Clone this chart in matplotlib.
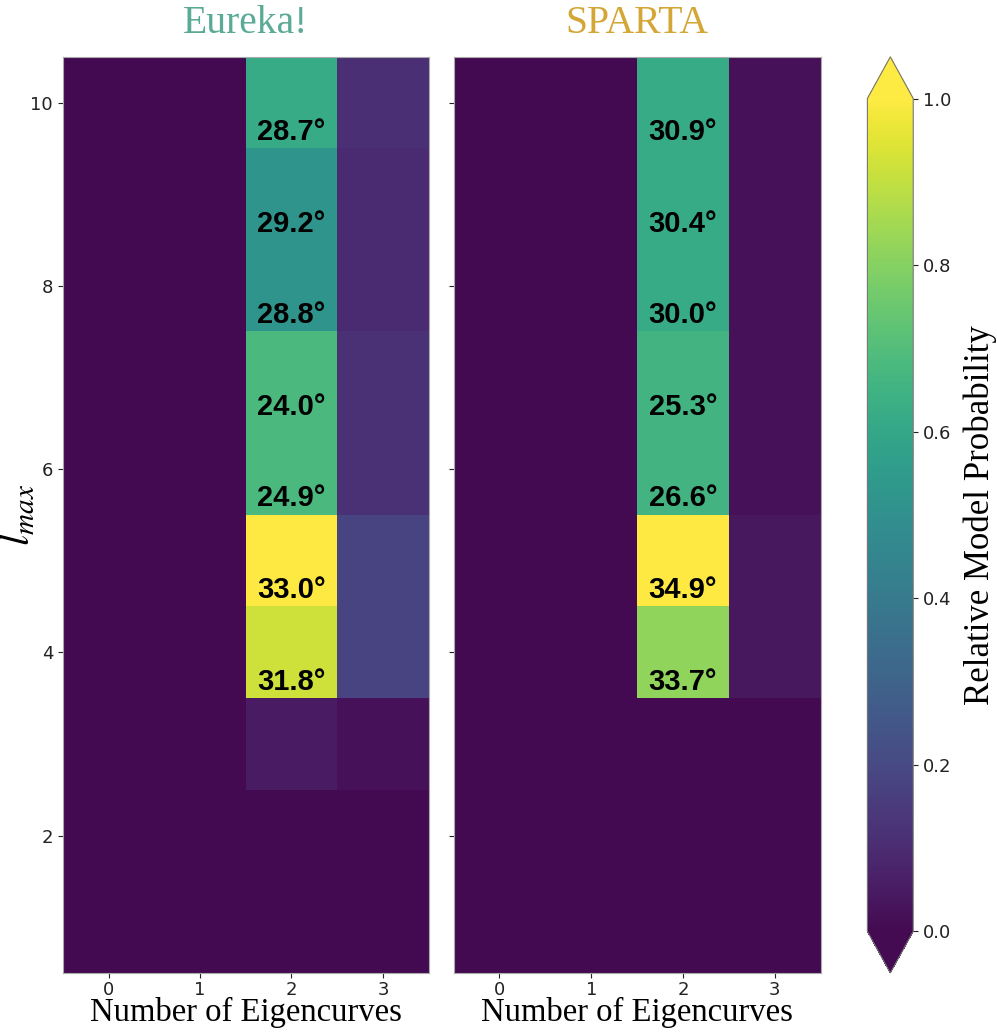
import numpy as np
import matplotlib
matplotlib.use("Agg")
import matplotlib.pyplot as plt
from matplotlib.colors import ListedColormap

# relative model probability, rows = lmax 1..10, cols = number of eigencurves 0..3
lmax = [1, 2, 3, 4, 5, 6, 7, 8, 9, 10]
n_eigen = [0, 1, 2, 3]

eureka_prob = [
    [0.0, 0.0, 0.00, 0.00],
    [0.0, 0.0, 0.00, 0.00],
    [0.0, 0.0, 0.05, 0.02],
    [0.0, 0.0, 0.92, 0.18],
    [0.0, 0.0, 1.00, 0.18],
    [0.0, 0.0, 0.68, 0.12],
    [0.0, 0.0, 0.68, 0.12],
    [0.0, 0.0, 0.52, 0.10],
    [0.0, 0.0, 0.52, 0.10],
    [0.0, 0.0, 0.62, 0.11],
]
sparta_prob = [
    [0.0, 0.0, 0.00, 0.00],
    [0.0, 0.0, 0.00, 0.00],
    [0.0, 0.0, 0.00, 0.00],
    [0.0, 0.0, 0.82, 0.04],
    [0.0, 0.0, 1.00, 0.04],
    [0.0, 0.0, 0.66, 0.02],
    [0.0, 0.0, 0.66, 0.02],
    [0.0, 0.0, 0.62, 0.02],
    [0.0, 0.0, 0.62, 0.02],
    [0.0, 0.0, 0.62, 0.02],
]

# inclination labels in the 2-eigencurve column, lmax 4..10
label_lmax = [4, 5, 6, 7, 8, 9, 10]
eureka_incl = [31.8, 33.0, 24.9, 24.0, 28.8, 29.2, 28.7]
sparta_incl = [33.7, 34.9, 26.6, 25.3, 30.0, 30.4, 30.9]

titles = ["Eureka!", "SPARTA"]
title_colors = ["#5aaa96", "#d4a636"]

# slightly washed-out viridis, like the reference render
vir = plt.get_cmap("viridis")(np.linspace(0, 1, 256))
lum = (0.299 * vir[:, 0] + 0.587 * vir[:, 1] + 0.114 * vir[:, 2])[:, None]
soft = vir.copy()
soft[:, :3] = np.clip(0.86 * vir[:, :3] + 0.14 * lum + 0.02, 0, 1)
cmap = ListedColormap(soft)

plt.rcParams["mathtext.fontset"] = "stix"

fig = plt.figure(figsize=(9.97, 10.34), dpi=100)
ax1 = fig.add_axes([0.063, 0.059, 0.367, 0.886])
ax2 = fig.add_axes([0.455, 0.059, 0.368, 0.886])
cax = fig.add_axes([0.870, 0.059, 0.046, 0.886])

ext = [n_eigen[0] - 0.5, n_eigen[-1] + 0.5, lmax[0] - 0.5, lmax[-1] + 0.5]

for ax, prob, incl, title, tc in zip([ax1, ax2], [eureka_prob, sparta_prob],
                                     [eureka_incl, sparta_incl], titles, title_colors):
    im = ax.imshow(np.array(prob), origin="lower", cmap=cmap, vmin=0, vmax=1,
                   extent=ext, aspect="auto", interpolation="nearest")
    for l, v in zip(label_lmax, incl):
        ax.text(2, l - 0.32, "%.1f°" % v, ha="center", va="center",
                fontsize=21, fontweight="bold", family="Liberation Sans", color="black")
    ax.set_xticks(n_eigen)
    ax.set_yticks([2, 4, 6, 8, 10])
    ax.tick_params(labelsize=13, colors="#222222")
    ax.tick_params(axis="x", pad=2)
    ax.set_xlabel("Number of Eigencurves", fontsize=23.5, family="Liberation Serif", labelpad=-1)
    ax.set_title(title, fontsize=28.5, family="Liberation Serif", color=tc, pad=17)
    for s in ax.spines.values():
        s.set_color("#aaaaaa")

ax2.set_yticklabels([])
ax1.set_ylabel("$l_{max}$", fontsize=30, labelpad=-6)

cb = fig.colorbar(im, cax=cax, extend="both")
cb.set_ticks([0.0, 0.2, 0.4, 0.6, 0.8, 1.0])
cb.ax.tick_params(labelsize=13, colors="#222222")
cb.outline.set_edgecolor("#777777")
cb.set_label("Relative Model Probability", fontsize=25, family="Liberation Serif", labelpad=9)

fig.savefig("out.png", dpi=100)
